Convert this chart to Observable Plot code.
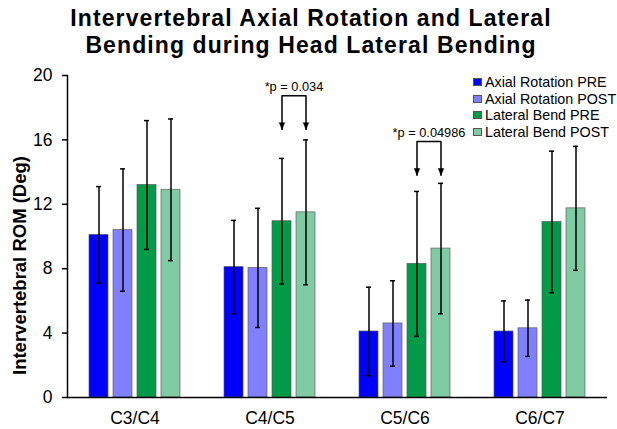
<!DOCTYPE html>
<html>
<head>
<meta charset="utf-8">
<script src="https://cdn.jsdelivr.net/npm/d3@7"></script>
<script src="https://cdn.jsdelivr.net/npm/@observablehq/plot@0.6"></script>
<style>
  html, body { margin: 0; padding: 0; background: #fff; }
  #wrap { position: relative; width: 617px; height: 429px; font-family: "Liberation Sans", Arial, sans-serif; }
  #title { height: 62px; box-sizing: border-box; padding-top: 5px; padding-left: 5px; text-align: center; font-weight: bold; font-size: 23px; line-height: 27px; letter-spacing: 1.1px; color: #000; }
  #legend { position: absolute; left: 473px; top: 74px; font-size: 14.3px; line-height: 16.5px; color: #000; }
  .row { display: flex; align-items: center; height: 16.5px; white-space: nowrap; }
  .sw { width: 7px; height: 6px; border: 1px solid #555; margin-right: 3px; }
  svg { display: block; }
</style>
</head>
<body>
<div id="wrap">
  <div id="title">Intervertebral Axial Rotation and Lateral<br>Bending during Head Lateral Bending</div>
  <div id="chart"></div>
  <div id="legend"></div>
</div>
<script>
const levels = ["C3/C4", "C4/C5", "C5/C6", "C6/C7"];
const series = ["Axial Rotation PRE", "Axial Rotation POST", "Lateral Bend PRE", "Lateral Bend POST"];
const colors = ["#0000ff", "#8080ff", "#009a48", "#80cba3"];

// means per series (one value per level)
const axialPre   = [10.1, 8.1, 4.1, 4.1];
const axialPost  = [10.4, 8.05, 4.6, 4.3];
const lateralPre = [13.2, 10.95, 8.3, 10.9];
const lateralPost= [12.9, 11.5, 9.25, 11.75];
// standard deviations
const axialPreSD   = [3.0, 2.9, 2.75, 1.9];
const axialPostSD  = [3.8, 3.7, 2.65, 1.75];
const lateralPreSD = [4.0, 3.9, 4.5, 4.4];
const lateralPostSD= [4.4, 4.5, 4.05, 3.85];

const yTicks = [0, 4, 8, 12, 16, 20];

// significance annotations
const sigLevels = ["C4/C5", "C5/C6"];
const sigLabels = ["*p = 0.034", "*p = 0.04986"];
const sigTop = [18.75, 15.9];
const sigTip = [16.65, 13.8];

const means = [axialPre, axialPost, lateralPre, lateralPost];
const sds = [axialPreSD, axialPostSD, lateralPreSD, lateralPostSD];
const rows = levels.flatMap((lv, i) => series.map((s, j) => ({level: lv, series: s, mean: means[j][i], sd: sds[j][i]})));

const brackets = sigLevels.flatMap((lv, k) => [
  {k, level: lv, series: series[2], y: sigTip[k]},
  {k, level: lv, series: series[2], y: sigTop[k]},
  {k, level: lv, series: series[3], y: sigTop[k]},
  {k, level: lv, series: series[3], y: sigTip[k]}
]);
const tips = sigLevels.flatMap((lv, k) => [
  {level: lv, series: series[2], y: sigTip[k]},
  {level: lv, series: series[3], y: sigTip[k]}
]);
const labels = sigLevels.map((lv, k) => ({level: lv, series: series[2], y: sigTop[k], text: sigLabels[k]}));

const chart = Plot.plot({
  width: 617,
  height: 367,
  marginTop: 13,
  marginBottom: 32,
  marginLeft: 67,
  marginRight: 10,
  style: {fontFamily: "Liberation Sans, Arial, sans-serif", color: "#000", background: "#fff"},
  fx: {domain: levels, padding: 0, axis: null},
  x: {domain: series, paddingInner: 0.2, paddingOuter: 0.855, axis: null},
  y: {domain: [0, 20], axis: null},
  color: {domain: series, range: colors},
  marks: [
    Plot.barY(rows, {fx: "level", x: "series", y: "mean", fill: "series", stroke: "#555", strokeWidth: 0.8, strokeOpacity: 0.8}),
    Plot.ruleX(rows, {fx: "level", x: "series", y1: d => d.mean - d.sd, y2: d => d.mean + d.sd, stroke: "#000", strokeWidth: 1.5}),
    Plot.tickY(rows, {fx: "level", x: "series", y: d => d.mean + d.sd, stroke: "#000", strokeWidth: 1.5, insetLeft: 7, insetRight: 7}),
    Plot.tickY(rows, {fx: "level", x: "series", y: d => d.mean - d.sd, stroke: "#000", strokeWidth: 1.5, insetLeft: 7, insetRight: 7}),
    Plot.line(brackets, {fx: "level", x: "series", y: "y", z: "k", stroke: "#000", strokeWidth: 1.5}),
    Plot.vector(tips, {fx: "level", x: "series", y: "y", rotate: 180, length: 7, r: 2.8, shape: "spike", anchor: "end", fill: "#000", stroke: "#000", strokeWidth: 0.5}),
    Plot.text(labels, {fx: "level", x: "series", y: "y", text: "text", dx: 12, dy: -5, lineAnchor: "bottom", fontSize: 12.8, fill: "#000"}),
    Plot.ruleY([0], {stroke: "#000", strokeWidth: 1.5}),
    Plot.frame({anchor: "left", facetAnchor: "left", stroke: "#000", strokeWidth: 1.5}),
    Plot.axisY({ticks: yTicks, tickSize: 5, tickPadding: 10, fontSize: 17.5, label: null, strokeWidth: 1.5, facetAnchor: "left"}),
    Plot.axisFx({anchor: "bottom", tickSize: 0, tickPadding: 14, fontSize: 17.5, label: null}),
    Plot.text(["Intervertebral ROM (Deg)"], {text: d => d, frameAnchor: "left", facetAnchor: "left", rotate: -90, textAnchor: "middle", lineAnchor: "middle", dx: -47, dy: 29, fontSize: 18.5, fontWeight: "bold", fill: "#000"})
  ]
});
document.getElementById("chart").appendChild(chart);

const legend = document.getElementById("legend");
series.forEach((s, i) => {
  const row = document.createElement("div");
  row.className = "row";
  const sw = document.createElement("div");
  sw.className = "sw";
  sw.style.background = colors[i];
  const t = document.createElement("span");
  t.textContent = s;
  row.appendChild(sw);
  row.appendChild(t);
  legend.appendChild(row);
});
</script>
</body>
</html>
